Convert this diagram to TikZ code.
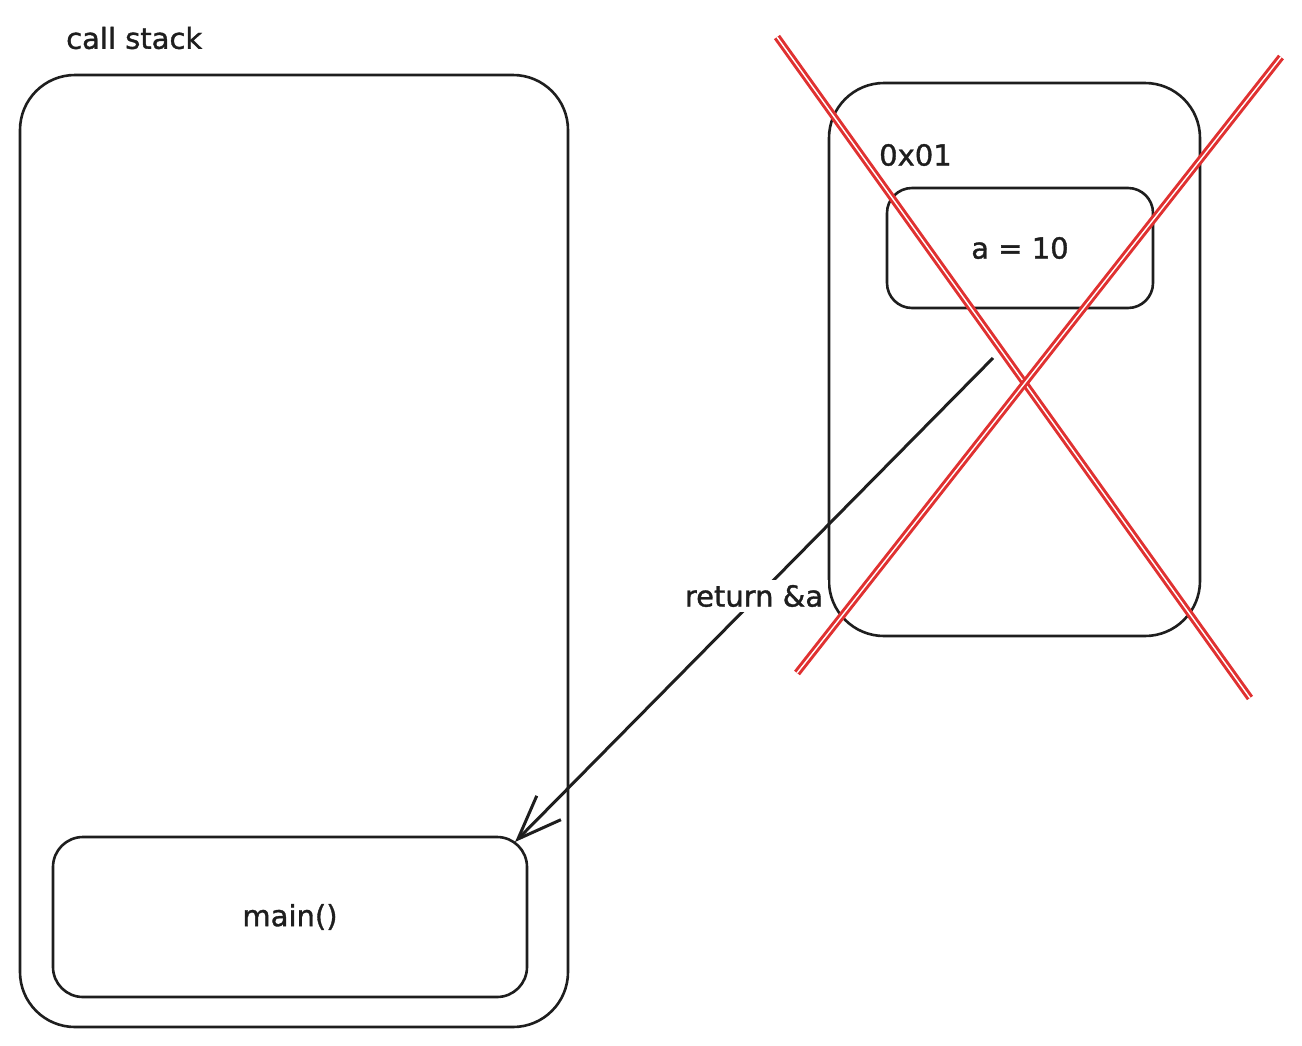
\documentclass[tikz,border=0pt]{standalone}
\usepackage{fontspec}
\setmainfont{DejaVu Sans}[FakeBold=1.2]
\usetikzlibrary{arrows.meta}
\definecolor{ink}{HTML}{1E1E1E}
\definecolor{xred}{HTML}{E03131}
\begin{document}
\begin{tikzpicture}[x=1pt,y=-1pt,
  box/.style={draw=ink, line width=2.6pt, rounded corners=#1, inner sep=0pt},
  box/.default=50pt,
  lbl/.style={font=\fontsize{29}{34}\selectfont, text=ink, inner sep=0pt},
  cross/.style={draw=xred, line width=3pt, double=white, double distance=1.4pt}]
\useasboundingbox (0,0) rectangle (1302,1045);
% call stack
\node[box=55pt, minimum width=548pt, minimum height=952pt] (stack) at (294,551) {};
\node[lbl, anchor=west] (stacklbl) at (66,38) {call stack};
\node[box=30pt, minimum width=474pt, minimum height=160pt, lbl] (main) at (290,917) {main()};
% freed frame
\node[box=55pt, minimum width=371pt, minimum height=553pt] (frame) at (1014.5,359.5) {};
\node[lbl, anchor=west] (addr) at (879,155) {0x01};
\node[box=25pt, minimum width=266pt, minimum height=120pt, lbl] (avar) at (1020,248) {a = 10};
% return arrow
\coordinate (rstart) at (993,358);
\coordinate (rend) at (515,842);
\draw[ink, line width=3pt, -{Straight Barb[length=44pt,width=34pt,line width=3pt]}] (rstart) -- node[lbl, fill=white, inner sep=5pt, pos=0.5, yshift=4pt] (ret) {return \&a} (rend);
% red cross
\coordinate (c1a) at (777,37);
\coordinate (c1b) at (1250,698);
\coordinate (c2a) at (1281,57);
\coordinate (c2b) at (797,673);
\draw[cross] (c1a) -- (c1b);
\draw[cross] (c2a) -- (c2b);
\end{tikzpicture}
\end{document}
